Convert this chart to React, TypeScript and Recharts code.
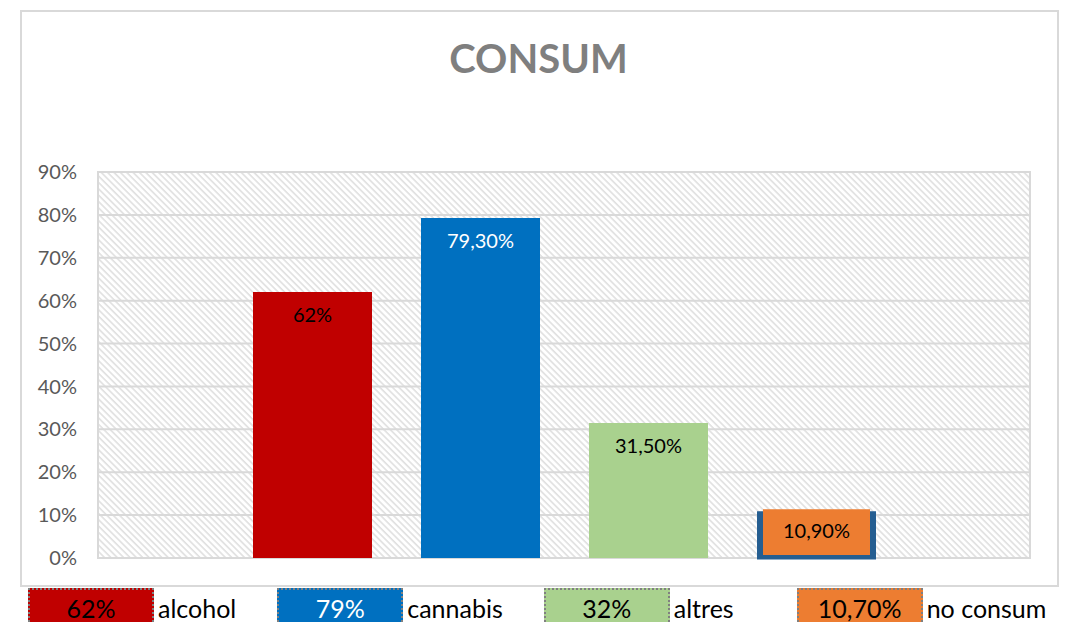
import {
  BarChart,
  Bar,
  CartesianGrid,
  XAxis,
  YAxis,
  LabelList,
  ReferenceArea,
} from "recharts";

const categories = ["alcohol", "cannabis", "altres", "no consum"];
const values = [62, 79.3, 31.5, 10.9];
const barLabels = ["62%", "79,30%", "31,50%", "10,90%"];
const legendValues = ["62%", "79%", "32%", "10,70%"];
const colors = ["#C00000", "#0070C0", "#A9D18E", "#ED7D31"];
const labelColors = ["#000000", "#FFFFFF", "#000000", "#000000"];
const yTicks = [0, 10, 20, 30, 40, 50, 60, 70, 80, 90];

const keys = categories.map((_, i) => `s${i}`);
const data = [
  keys.reduce(
    (row, k, i) => ({ ...row, [k]: values[i] }),
    { name: "consum" } as Record<string, string | number>
  ),
];

const FONT = "Lato, 'Open Sans', sans-serif";

// orange bar with the thick dark blue outline seen in the original
const OutlinedBar = (props: any) => {
  const { x, y, width, height } = props;
  return (
    <g>
      <rect x={x} y={y} width={width} height={height + 1.5} fill="#255E91" />
      <rect
        x={x + 6}
        y={y - 2}
        width={width - 12}
        height={height - 1}
        fill={colors[3]}
      />
    </g>
  );
};

const App = () => {
  return (
    <div
      style={{
        position: "absolute",
        left: 0,
        top: 0,
        width: 1069,
        height: 622,
        overflow: "hidden",
        background: "#fff",
        fontFamily: FONT,
      }}
    >
      <svg width={0} height={0} style={{ position: "absolute" }}>
        <defs>
          <pattern
            id="hatch"
            width={4.5}
            height={4.5}
            patternUnits="userSpaceOnUse"
            patternTransform="rotate(45)"
          >
            <rect width={4.5} height={4.5} fill="#ffffff" />
            <rect x={0} y={0} width={4.5} height={1.6} fill="#E0E0E0" />
          </pattern>
        </defs>
      </svg>

      <div
        style={{
          position: "absolute",
          left: 20,
          top: 10,
          width: 1035,
          height: 573,
          border: "2px solid #D9D9D9",
        }}
      />

      <div
        style={{
          position: "absolute",
          left: 0,
          width: 1069,
          top: 34,
          textAlign: "center",
          fontSize: 40,
          fontWeight: 700,
          color: "#7F7F7F",
          lineHeight: "48px",
          paddingLeft: 8,
          boxSizing: "border-box",
        }}
      >
        CONSUM
      </div>

      <div style={{ position: "absolute", left: 0, top: 0 }}>
        <BarChart
          width={1069}
          height={622}
          data={data}
          margin={{ top: 172, right: 39, bottom: 64, left: 20 }}
          barCategoryGap={155}
          barGap={49}
        >
          <CartesianGrid
            vertical={false}
            stroke="#D9D9D9"
            strokeWidth={2}
            fill="url(#hatch)"
            fillOpacity={1}
          />
          <ReferenceArea
            y1={0}
            y2={90}
            fill="none"
            stroke="#D9D9D9"
            strokeWidth={2}
            ifOverflow="visible"
          />
          <XAxis dataKey="name" hide />
          <YAxis
            width={78}
            domain={[0, 90]}
            ticks={yTicks}
            interval={0}
            tickFormatter={(v) => `${v}%`}
            axisLine={false}
            tickLine={false}
            tickSize={0}
            tickMargin={21}
            tick={{ fill: "#595959", fontSize: 20, fontFamily: FONT }}
          />
          {keys.map((k, i) => (
            <Bar
              key={k}
              dataKey={k}
              name={categories[i]}
              fill={colors[i]}
              isAnimationActive={false}
              shape={i === 3 ? OutlinedBar : undefined}
            >
              <LabelList
                dataKey={k}
                position="insideTop"
                offset={i === 3 ? 13 : 16}
                formatter={() => barLabels[i]}
                fill={labelColors[i]}
                fontSize={20}
                fontFamily={FONT}
              />
            </Bar>
          ))}
        </BarChart>
      </div>

      <div
        style={{
          position: "absolute",
          left: 28,
          top: 588,
          display: "flex",
          alignItems: "flex-start",
        }}
      >
        {categories.map((c, i) => (
          <div
            key={c}
            style={{
              display: "flex",
              alignItems: "flex-start",
              marginRight: i === 2 ? 63 : 41,
              whiteSpace: "nowrap",
            }}
          >
            <div
              style={{
                width: 122,
                height: 40,
                background: colors[i],
                border: "2px dotted #808080",
                color: labelColors[i],
                fontSize: 25,
                textAlign: "center",
                lineHeight: "24px",
                paddingTop: 6,
                boxSizing: "content-box",
              }}
            >
              {legendValues[i]}
            </div>
            <div
              style={{
                fontSize: 25,
                color: "#000",
                lineHeight: "24px",
                paddingTop: 8,
                marginLeft: 4,
              }}
            >
              {c}
            </div>
          </div>
        ))}
      </div>
    </div>
  );
};

export default App;
